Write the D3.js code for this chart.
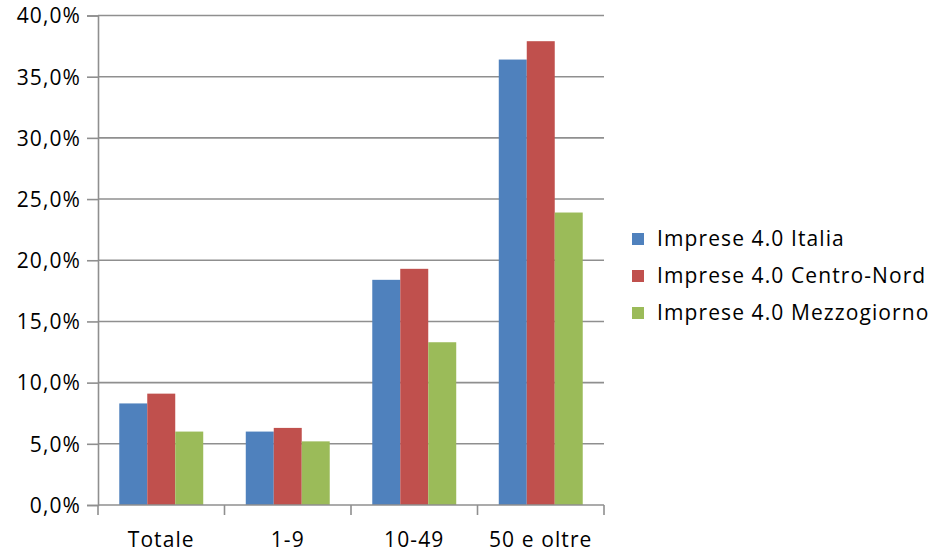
<!DOCTYPE html>
<html><head><meta charset="utf-8">
<script src="https://cdn.jsdelivr.net/npm/d3@7"></script>
<style>body{margin:0;background:#fff}svg{display:block}text{font-family:"Open Sans","Noto Sans",sans-serif;fill:#000}</style>
</head><body>
<svg id="c" width="932" height="553"></svg>
<script>
const categories = ["Totale", "1-9", "10-49", "50 e oltre"];
const seriesNames = ["Imprese 4.0 Italia", "Imprese 4.0 Centro-Nord", "Imprese 4.0 Mezzogiorno"];
const italia = [0.083, 0.060, 0.184, 0.364];
const centroNord = [0.091, 0.063, 0.193, 0.379];
const mezzogiorno = [0.060, 0.052, 0.133, 0.239];
const colors = ["#4F81BD", "#C0504D", "#9BBB59"];
const yTicks = [0, 0.05, 0.10, 0.15, 0.20, 0.25, 0.30, 0.35, 0.40];

const series = [italia, centroNord, mezzogiorno];
const svg = d3.select("#c");
const locale = d3.formatLocale({decimal: ",", thousands: ".", grouping: [3], currency: ["€", ""]});
const fmt = locale.format(".1%");
const FS = 21, LS = 1.1;

const x0 = d3.scaleBand().domain(categories).range([98, 604]).paddingInner(0).paddingOuter(0);
const x1 = d3.scaleBand().domain(d3.range(3)).range([0, x0.bandwidth()]).paddingInner(0).paddingOuter(0.76);
const y = d3.scaleLinear().domain([0, 0.4]).range([505, 15.5]);

// gridlines
svg.append("g").selectAll("line").data(yTicks.slice(1)).join("line")
  .attr("x1", 98).attr("x2", 604).attr("y1", d => y(d)).attr("y2", d => y(d))
  .attr("stroke", "#8f8f8f").attr("stroke-width", 1.6);

// bars
const g = svg.append("g");
series.forEach((vals, si) => {
  g.append("g").selectAll("rect").data(vals).join("rect")
    .attr("x", (d, i) => x0(categories[i]) + x1(si))
    .attr("width", x1.bandwidth())
    .attr("y", d => y(d))
    .attr("height", d => y(0) - y(d))
    .attr("fill", colors[si]);
});

// y axis
const yAxis = d3.axisLeft(y).tickValues(yTicks).tickFormat(fmt).tickSize(11).tickPadding(6);
const ya = svg.append("g").attr("transform", "translate(98,0)").call(yAxis);
ya.select(".domain").attr("stroke", "#8f8f8f").attr("stroke-width", 1.6);
ya.selectAll(".tick line").attr("stroke", "#8f8f8f").attr("stroke-width", 1.6);
ya.selectAll(".tick text").attr("font-size", FS).attr("font-family", "Open Sans").attr("fill", "#000").attr("dy", "0.35em").attr("letter-spacing", LS);

// x axis
const xa = svg.append("g").attr("transform", "translate(0,505)");
xa.append("line").attr("x1", 98).attr("x2", 604).attr("stroke", "#8f8f8f").attr("stroke-width", 1.6);
const bounds = categories.map(c => x0(c)).concat([x0.range()[1]]);
xa.selectAll("line.t").data(bounds).join("line").attr("class", "t")
  .attr("x1", d => d).attr("x2", d => d).attr("y1", 0).attr("y2", 10)
  .attr("stroke", "#8f8f8f").attr("stroke-width", 1.6);
xa.selectAll("text").data(categories).join("text")
  .attr("x", d => x0(d) + x0.bandwidth() / 2).attr("y", 42)
  .attr("text-anchor", "middle").attr("font-size", FS).attr("letter-spacing", LS).text(d => d);

// legend
const lg = svg.append("g");
seriesNames.forEach((n, i) => {
  const cy = 239 + i * 37;
  lg.append("rect").attr("x", 632).attr("y", cy - 6).attr("width", 12).attr("height", 12).attr("fill", colors[i]);
  lg.append("text").attr("x", 657).attr("y", cy).attr("dy", "0.35em").attr("font-size", FS).attr("letter-spacing", LS).text(n);
});
</script>
</body></html>
